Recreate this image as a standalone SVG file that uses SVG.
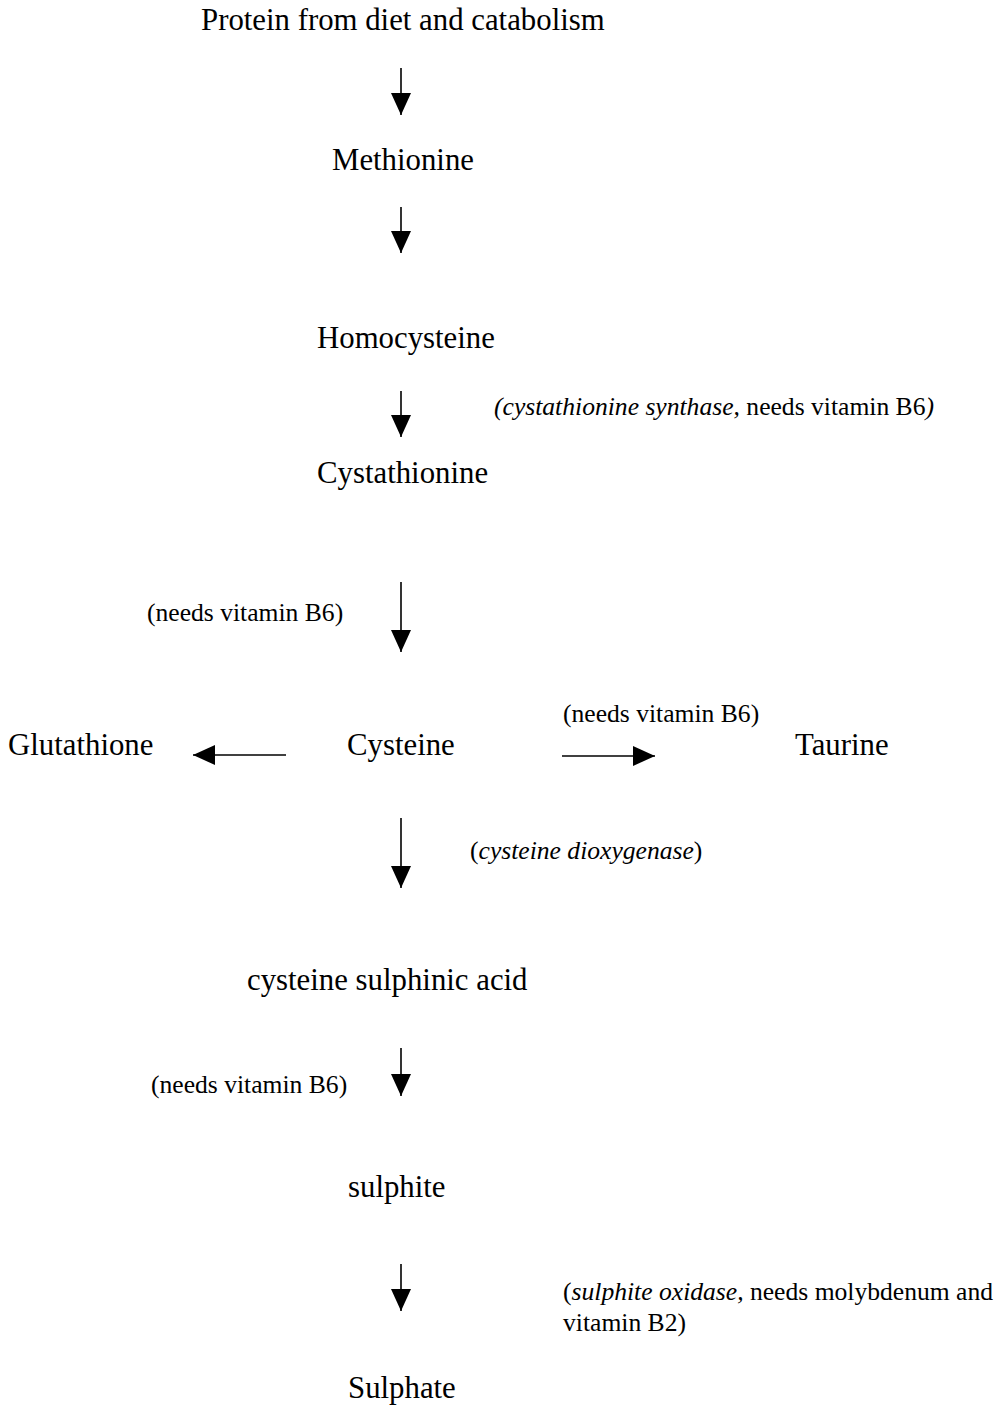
<svg xmlns="http://www.w3.org/2000/svg" width="1001" height="1406" viewBox="0 0 1001 1406">
<style>
text{font-family:"Liberation Serif","Times New Roman",serif;fill:#000}
.n{font-size:30.8px}
.l{font-size:25.6px}
.i{font-style:italic}
.c line{stroke:#000;stroke-width:1.6;marker-end:url(#ah)}
</style>
<defs>
<marker id="ah" markerUnits="userSpaceOnUse" markerWidth="22" markerHeight="20" viewBox="0 0 22 20" refX="22" refY="10" orient="auto">
<path d="M0,0 L22,10 L0,20 z" fill="#000"/>
</marker>
</defs>
<rect width="1001" height="1406" fill="#fff"/>
<g id="protein"><text class="n" x="201" y="30">Protein from diet and catabolism</text></g>
<g id="methionine"><text class="n" x="332" y="170">Methionine</text></g>
<g id="homocysteine"><text class="n" x="317" y="348">Homocysteine</text></g>
<g id="label-cbs"><text class="l" x="494" y="415"><tspan class="i">(cystathionine synthase,</tspan> needs vitamin B6<tspan class="i">)</tspan></text></g>
<g id="cystathionine"><text class="n" x="317" y="483">Cystathionine</text></g>
<g id="label-b6-1"><text class="l" x="147" y="621">(needs vitamin B6)</text></g>
<g id="glutathione"><text class="n" x="8" y="755">Glutathione</text></g>
<g id="cysteine"><text class="n" x="347" y="755">Cysteine</text></g>
<g id="label-b6-2"><text class="l" x="563" y="722">(needs vitamin B6)</text></g>
<g id="taurine"><text class="n" x="795" y="755">Taurine</text></g>
<g id="label-cdo"><text class="l" x="470" y="859">(<tspan class="i">cysteine dioxygenase</tspan>)</text></g>
<g id="csa"><text class="n" x="247" y="990">cysteine sulphinic acid</text></g>
<g id="label-b6-3"><text class="l" x="151" y="1093">(needs vitamin B6)</text></g>
<g id="sulphite"><text class="n" x="348" y="1197">sulphite</text></g>
<g id="label-so"><text class="l" x="563" y="1300">(<tspan class="i">sulphite oxidase,</tspan> needs molybdenum and</text><text class="l" x="563" y="1331">vitamin B2)</text></g>
<g id="sulphate"><text class="n" x="348" y="1398">Sulphate</text></g>
<g id="connectors" class="c">
<line x1="401" y1="68" x2="401" y2="115"/>
<line x1="401" y1="207" x2="401" y2="253"/>
<line x1="401" y1="391" x2="401" y2="437"/>
<line x1="401" y1="582" x2="401" y2="652"/>
<line x1="286" y1="755" x2="193" y2="755"/>
<line x1="562" y1="756" x2="655" y2="756"/>
<line x1="401" y1="818" x2="401" y2="888"/>
<line x1="401" y1="1048" x2="401" y2="1096"/>
<line x1="401" y1="1264" x2="401" y2="1311"/>
</g>
</svg>
